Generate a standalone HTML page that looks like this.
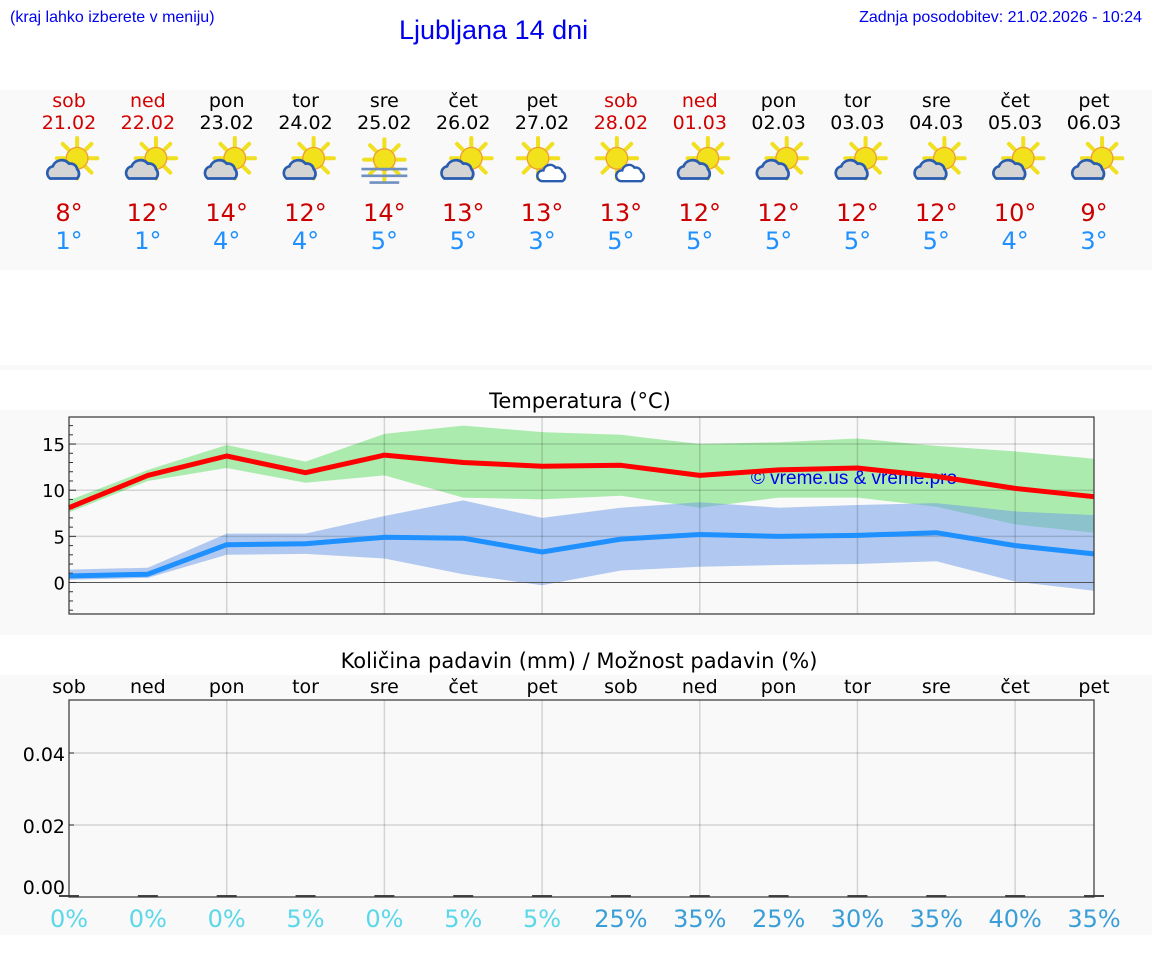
<!DOCTYPE html>
<html><head><meta charset="utf-8">
<style>
body{margin:0;width:1152px;height:975px;background:#fff;overflow:hidden}
svg{display:block}
</style></head><body>
<svg id="s" width="1152" height="975" xmlns="http://www.w3.org/2000/svg" font-family="DejaVu Sans, sans-serif">
<defs>
<g id="sun">
 <g stroke="#f0e020" stroke-width="3" stroke-linecap="round">
  <line x1="0" y1="-15" x2="0" y2="-9"/><line x1="0" y1="15" x2="0" y2="9"/>
  <line x1="-15" y1="0" x2="-9" y2="0"/><line x1="15" y1="0" x2="9" y2="0"/>
  <line x1="-10.6" y1="-10.6" x2="-6.5" y2="-6.5"/><line x1="10.6" y1="10.6" x2="6.5" y2="6.5"/>
  <line x1="-10.6" y1="10.6" x2="-6.5" y2="6.5"/><line x1="10.6" y1="-10.6" x2="6.5" y2="-6.5"/>
 </g>
 <circle r="8" fill="#f2e21c" stroke="#f0a030" stroke-width="1"/>
</g>
<g id="pc"><use href="#sun" x="6" y="-5"/>
 <path d="M-14,10 a5,5 0 0 1 2,-9 a7,7 0 0 1 12,-2 a5,5 0 0 1 6,4 a5,5 0 0 1 0,7 z" fill="#d4d4d4" stroke="#2a5cb0" stroke-width="2"/></g>
<g id="sc"><use href="#sun" x="-3" y="-5"/>
 <path d="M0,12 a4,4 0 0 1 1,-8 a5,5 0 0 1 9,-2 a4,4 0 0 1 5,3 a4,4 0 0 1 0,7 z" fill="#fff" stroke="#2a5cb0" stroke-width="1.8"/></g>
<g id="fog"><use href="#sun" x="0" y="-4"/>
 <g stroke="#7090c0" stroke-width="2"><line x1="-17" y1="3" x2="17" y2="3"/><line x1="-17" y1="8" x2="17" y2="8"/><line x1="-11" y1="13" x2="11" y2="13"/></g></g>
</defs>
<rect x="0" y="90" width="1152" height="180" fill="#f9f9f9"/>
<rect x="0" y="365" width="1152" height="5" fill="#f9f9f9"/>
<rect x="0" y="410" width="1152" height="225" fill="#f9f9f9"/>
<rect x="0" y="675" width="1152" height="260" fill="#f9f9f9"/>
<text x="10" y="22" font-family="Liberation Sans, sans-serif" font-size="16" fill="#0000ee">(kraj lahko izberete v meniju)</text>
<text x="399" y="39" font-family="Liberation Sans, sans-serif" font-size="27" fill="#0000ee">Ljubljana 14 dni</text>
<text x="1142" y="22" text-anchor="end" font-family="Liberation Sans, sans-serif" font-size="16" fill="#0000ee">Zadnja posodobitev: 21.02.2026 - 10:24</text>
<text x="580" y="408" text-anchor="middle" font-size="21" fill="#000">Temperatura (°C)</text>
<text x="579" y="668" text-anchor="middle" font-size="21" fill="#000">Količina padavin (mm) / Možnost padavin (%)</text>
<g id="cols"></g>
<g id="t"></g>
<g id="p"></g>
</svg>
<script>
const NS="http://www.w3.org/2000/svg";
function el(p,tag,a,txt){const e=document.createElementNS(NS,tag);for(const k in a)e.setAttribute(k,a[k]);if(txt!==undefined)e.textContent=txt;p.appendChild(e);return e;}
const X=i=>69+i*78.846;
const days=["sob","ned","pon","tor","sre","čet","pet","sob","ned","pon","tor","sre","čet","pet"];
const dates=["21.02","22.02","23.02","24.02","25.02","26.02","27.02","28.02","01.03","02.03","03.03","04.03","05.03","06.03"];
const mx=[8,12,14,12,14,13,13,13,12,12,12,12,10,9],mn=[1,1,4,4,5,5,3,5,5,5,5,5,4,3];
const ic=["pc","pc","pc","pc","fog","pc","sc","sc","pc","pc","pc","pc","pc","pc"];
const red=[0,1,7,8];
const C=document.getElementById("cols");
for(let i=0;i<14;i++){const x=X(i),c=red.includes(i)?"#d40000":"#000";
 el(C,"text",{x,y:107,"text-anchor":"middle","font-size":19,fill:c},days[i]);
 el(C,"text",{x,y:129,"text-anchor":"middle","font-size":19,fill:c},dates[i]);
 const g=el(C,"g",{transform:`translate(${x},${165}) scale(1.35)`});
 el(g,"use",{href:"#"+ic[i]});
 el(C,"text",{x,y:221,"text-anchor":"middle","font-size":24,fill:"#cc0000"},mx[i]+"°");
 el(C,"text",{x,y:249,"text-anchor":"middle","font-size":24,fill:"#1e90ff"},mn[i]+"°");
}
const T=document.getElementById("t");
const L=69,R=1094,Y=v=>582.5-v*9.23;
const rl=[8.1,11.6,13.7,11.9,13.8,13.0,12.6,12.7,11.6,12.2,12.4,11.5,10.2,9.3];
const gu=[8.9,12.2,14.9,13.1,16.1,17.0,16.3,16.0,15.0,15.2,15.6,14.8,14.2,13.4];
const gl=[7.6,11.0,12.4,10.8,11.6,9.2,9.0,9.4,8.1,9.2,9.2,8.2,6.3,5.4];
const bl=[0.7,0.9,4.1,4.2,4.9,4.8,3.3,4.7,5.2,5.0,5.1,5.4,4.0,3.1];
const bu=[1.4,1.6,5.3,5.3,7.2,8.9,7.0,8.1,8.7,8.1,8.4,8.6,7.7,7.3];
const bd=[0.3,0.5,3.0,3.1,2.6,0.9,-0.3,1.3,1.7,1.9,2.0,2.3,0.1,-0.9];
const pts=a=>a.map((v,i)=>X(i).toFixed(1)+","+Y(v).toFixed(1));
const band=(u,d)=>pts(u).join(" ")+" "+pts(d).reverse().join(" ");
el(T,"rect",{x:L,y:417,width:R-L,height:197,fill:"#f9f9f9"});
el(T,"polygon",{points:band(gu,gl),fill:"#acebae"});
el(T,"polygon",{points:band(bu,bd),fill:"#6a9ae8","fill-opacity":0.5});
for(const v of [5,10,15])el(T,"line",{x1:L,x2:R,y1:Y(v),y2:Y(v),stroke:"#000","stroke-opacity":0.15,"stroke-width":1.5});
el(T,"line",{x1:L,x2:R,y1:Y(0),y2:Y(0),stroke:"#555","stroke-width":1});
for(let i=2;i<14;i+=2)el(T,"line",{x1:X(i),x2:X(i),y1:417,y2:614,stroke:"#000","stroke-opacity":0.15,"stroke-width":1.5});
for(let v=-3;v<=17;v++){el(T,"line",{x1:L,x2:L+(v%5==0?7:4),y1:Y(v),y2:Y(v),stroke:"#333","stroke-width":1});}
for(const v of [0,5,10,15])el(T,"text",{x:L-4,y:Y(v)+7,"text-anchor":"end","font-size":18,fill:"#000"},v);
el(T,"text",{x:854,y:484,"text-anchor":"middle","font-family":"Liberation Sans, sans-serif","font-size":19,fill:"#0000ee"},"© vreme.us & vreme.pro");
el(T,"polyline",{points:pts(bl).join(" "),fill:"none",stroke:"#1e90ff","stroke-width":5,"stroke-linejoin":"round"});
el(T,"polyline",{points:pts(rl).join(" "),fill:"none",stroke:"#ff0000","stroke-width":5,"stroke-linejoin":"round"});
el(T,"rect",{x:L,y:417,width:R-L,height:197,fill:"none",stroke:"#333","stroke-width":1.2});
const P=document.getElementById("p");
const PY=v=>897-v*3600;
el(P,"rect",{x:L,y:700,width:R-L,height:197,fill:"#f9f9f9"});
for(const v of [0.02,0.04])el(P,"line",{x1:L,x2:R,y1:PY(v),y2:PY(v),stroke:"#000","stroke-opacity":0.15,"stroke-width":1.5});
for(let i=2;i<14;i+=2)el(P,"line",{x1:X(i),x2:X(i),y1:700,y2:897,stroke:"#000","stroke-opacity":0.15,"stroke-width":1.5});
for(let i=0;i<14;i++){el(P,"line",{x1:X(i)-10,x2:X(i)+10,y1:896,y2:896,stroke:"#444","stroke-width":2});
 el(P,"text",{x:X(i),y:693,"text-anchor":"middle","font-size":19,fill:"#000"},days[i]);}
[["0.04",754],["0.02",826],["0.00",887]].forEach(([t,y])=>{el(P,"line",{x1:L,x2:L+5,y1:PY(+t),y2:PY(+t),stroke:"#333"});el(P,"text",{x:L-4,y:y+7,"text-anchor":"end","font-size":19,fill:"#000"},t);});
el(P,"rect",{x:L,y:700,width:R-L,height:197,fill:"none",stroke:"#333","stroke-width":1.2});
const pc=[0,0,0,5,0,5,5,25,35,25,30,35,40,35];
for(let i=0;i<14;i++)el(P,"text",{x:X(i),y:927,"text-anchor":"middle","font-size":24,fill:i<7?"#5ad8ea":"#3a9ed8"},pc[i]+"%");
</script>
</body></html>
